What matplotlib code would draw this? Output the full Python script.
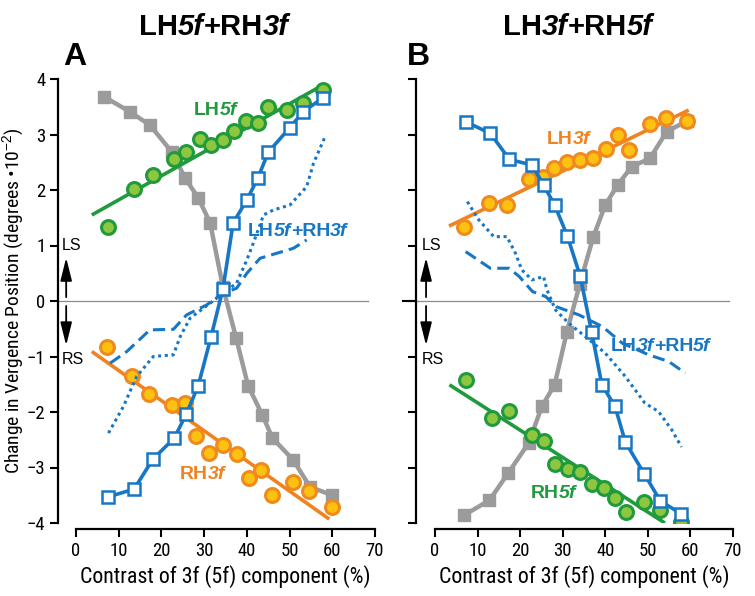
import os
import numpy as np
import matplotlib
matplotlib.use('Agg')
import matplotlib.pyplot as plt
from matplotlib import font_manager, transforms
from matplotlib.font_manager import FontProperties

# ---------------- data ----------------
# Panel A : LH5f + RH3f
a_gray_x = [6.6, 12.6, 17.3, 22.5, 25.5, 28.6, 31.4, 34.4, 37.5, 40.3, 43.6, 46.0, 50.8, 54.8, 60.0]
a_gray_y = [3.68, 3.41, 3.17, 2.68, 2.22, 1.86, 1.41, 0.25, -0.67, -1.53, -2.05, -2.47, -2.86, -3.35, -3.50]
a_blue_x = [7.5, 13.6, 18.0, 23.0, 25.8, 28.6, 31.6, 34.4, 36.8, 40.0, 42.6, 45.0, 50.0, 53.2, 57.8]
a_blue_y = [-3.53, -3.39, -2.85, -2.47, -2.04, -1.53, -0.65, 0.22, 1.41, 1.82, 2.22, 2.68, 3.12, 3.41, 3.66]
a_green_x = [7.6, 13.6, 18.0, 23.0, 25.7, 29.0, 31.5, 34.4, 37.0, 39.8, 42.6, 44.9, 49.3, 53.2, 57.8]
a_green_y = [1.34, 2.02, 2.27, 2.56, 2.69, 2.92, 2.81, 2.90, 3.07, 3.25, 3.21, 3.49, 3.45, 3.57, 3.81]
a_green_fit_x = [3.7, 58.0]
a_green_fit_y = [1.55, 3.90]
a_orange_x = [7.2, 13.0, 17.2, 22.4, 25.5, 28.1, 31.2, 34.3, 37.6, 40.4, 43.3, 46.0, 50.9, 54.6, 59.9]
a_orange_y = [-0.83, -1.36, -1.68, -1.87, -1.84, -2.43, -2.73, -2.59, -2.76, -3.19, -3.05, -3.50, -3.26, -3.42, -3.72]
a_orange_fit_x = [3.7, 59.3]
a_orange_fit_y = [-0.91, -3.93]
a_dash_x = [8.0, 11.9, 17.3, 22.8, 25.9, 30.6, 34.5, 37.6, 40.0, 43.1, 47.0, 50.9, 54.0]
a_dash_y = [-1.12, -0.91, -0.52, -0.51, -0.25, -0.07, 0.14, 0.23, 0.50, 0.77, 0.86, 0.95, 1.10]
a_dot_x = [7.6, 11.1, 14.2, 18.1, 22.8, 24.4, 26.7, 31.4, 34.4, 37.6, 40.0, 41.5, 43.9, 46.2, 50.1, 54.0, 55.6, 58.3]
a_dot_y = [-2.38, -1.90, -1.36, -1.00, -0.97, -0.64, -0.31, -0.04, 0.14, 0.32, 0.74, 1.04, 1.55, 1.64, 1.73, 2.06, 2.48, 2.96]

# Panel B : LH3f + RH5f
b_gray_x = [6.8, 12.8, 17.2, 22.0, 25.1, 28.1, 31.0, 34.0, 37.2, 40.0, 42.9, 46.2, 50.5, 54.4, 59.3]
b_gray_y = [-3.86, -3.59, -3.10, -2.56, -1.90, -1.51, -0.55, 0.30, 1.16, 1.73, 2.09, 2.42, 2.57, 3.05, 3.25]
b_blue_x = [7.2, 13.0, 17.5, 22.8, 25.5, 28.1, 31.1, 34.1, 36.8, 39.2, 42.3, 44.7, 49.2, 52.9, 57.9]
b_blue_y = [3.23, 3.02, 2.55, 2.45, 2.09, 1.73, 1.17, 0.45, -0.56, -1.51, -1.90, -2.54, -3.12, -3.60, -3.84]
b_orange_x = [6.8, 12.8, 16.9, 22.0, 25.3, 28.0, 31.0, 34.1, 37.0, 40.1, 42.9, 45.6, 50.5, 54.2, 59.3]
b_orange_y = [1.33, 1.77, 1.73, 2.19, 2.23, 2.39, 2.51, 2.54, 2.57, 2.73, 3.00, 2.72, 3.19, 3.29, 3.25]
b_orange_fit_x = [3.3, 59.6]
b_orange_fit_y = [1.35, 3.44]
b_green_x = [7.2, 13.3, 17.5, 22.8, 25.5, 28.3, 31.2, 34.1, 36.8, 39.6, 42.3, 44.8, 49.2, 52.9, 57.9]
b_green_y = [-1.42, -2.11, -1.99, -2.41, -2.52, -2.94, -3.03, -3.09, -3.30, -3.37, -3.55, -3.80, -3.63, -3.77, -3.98]
b_green_fit_x = [3.4, 54.0]
b_green_fit_y = [-1.51, -4.00]
b_dash_x = [7.2, 13.0, 17.4, 19.8, 22.9, 26.0, 28.4, 33.8, 39.3, 44.0, 50.2, 54.9, 58.8]
b_dash_y = [0.89, 0.59, 0.59, 0.44, 0.17, 0.08, -0.10, -0.25, -0.46, -0.76, -0.97, -1.09, -1.30]
b_dot_x = [7.6, 10.3, 13.8, 16.9, 18.9, 20.4, 22.8, 25.5, 26.3, 28.3, 31.4, 35.3, 40.0, 44.7, 49.3, 52.5, 55.6, 57.9]
b_dot_y = [1.79, 1.46, 1.16, 1.16, 0.86, 0.56, 0.38, 0.44, 0.20, -0.16, -0.40, -0.64, -0.94, -1.36, -1.84, -1.99, -2.32, -2.63]

x_ticks = [0, 10, 20, 30, 40, 50, 60, 70]
y_ticks = [-4, -3, -2, -1, 0, 1, 2, 3, 4]
x_label = 'Contrast of 3f (5f) component (%)'
y_label = 'Change in Vergence Position (degrees \u202210$^{-2}$)'

# ---------------- fonts ----------------
names = {f.name for f in font_manager.fontManager.ttflist}
SANS = 'Liberation Sans' if 'Liberation Sans' in names else 'DejaVu Sans'
narrow_file = None
files = {os.path.basename(f.fname): f.fname for f in font_manager.fontManager.ttflist}
for cand in ['LiberationSansNarrow-Regular.ttf', 'ArialNarrow.ttf', 'Roboto-Condensed.ttf',
             'RobotoCondensed-Regular.ttf', 'OpenSans_Condensed-Regular.ttf', 'DejaVuSansCondensed.ttf']:
    if cand in files:
        narrow_file = files[cand]
        break


def NARROW_FP(size):
    if narrow_file:
        return FontProperties(fname=narrow_file, size=size)
    return FontProperties(family=SANS, size=size)


plt.rcParams['font.family'] = [SANS, 'DejaVu Sans']
plt.rcParams['mathtext.fontset'] = 'custom'
plt.rcParams['mathtext.rm'] = SANS

GRAY = '#9b9b9b'
BLUE = '#1877c4'
GREEN_E = '#1f9a3d'
GREEN_F = '#8dc63f'
ORANGE_E = '#f08a1e'
ORANGE_F = '#fdc112'
ORANGE_L = '#ef8321'

W, H = 755, 596
fig = plt.figure(figsize=(W / 100, H / 100), dpi=100)


def px_axes(x0, x1, y_top, y_bot):
    return fig.add_axes([x0 / W, 1 - y_bot / H, (x1 - x0) / W, (y_bot - y_top) / H])


axA = px_axes(76, 375, 79, 523)
axB = px_axes(435, 733, 79, 523)


def mixed_text(ax_or_fig, trans, x, y, parts, size, color):
    renderer = fig.canvas.get_renderer()
    texts, widths = [], []
    for s, style in parts:
        t = ax_or_fig.text(x, y, s, transform=trans, fontsize=size, fontweight='bold',
                           fontstyle=style, color=color, ha='left', va='baseline',
                           family=SANS, clip_on=False, zorder=10)
        bb = t.get_window_extent(renderer)
        widths.append(bb.width)
        texts.append(t)
    total = sum(widths)
    cap = 0.716 * size * fig.dpi / 72.0
    off = -total / 2.0
    for t, w in zip(texts, widths):
        t.set_transform(transforms.offset_copy(trans, fig=fig, x=off, y=-cap / 2.0, units='dots'))
        off += w


def fit_text(t, target_px):
    renderer = fig.canvas.get_renderer()
    bb = t.get_window_extent(renderer)
    if bb.width > 0:
        t.set_fontsize(t.get_fontsize() * target_px / bb.width)


def style_axes(ax, left_offset_px, labels):
    ax.set_xlim(0, 70)
    ax.set_ylim(-4, 4)
    for s in ['top', 'right']:
        ax.spines[s].set_visible(False)
    ax.spines['left'].set_position(('outward', left_offset_px * 0.72))
    ax.spines['bottom'].set_position(('outward', 6 * 0.72))
    ax.spines['left'].set_bounds(-4, 4)
    ax.spines['bottom'].set_bounds(0, 70)
    for s in ['left', 'bottom']:
        ax.spines[s].set_linewidth(1.6)
    ax.set_xticks(x_ticks)
    ax.set_yticks(y_ticks)
    ax.tick_params(axis='both', direction='out', width=1.5, length=5.5, colors='black')
    for lab in ax.get_xticklabels() + ax.get_yticklabels():
        lab.set_fontproperties(NARROW_FP(13.5))
    if not labels:
        ax.set_yticklabels([])
    ax.set_xlabel(x_label, fontproperties=NARROW_FP(14), labelpad=4)
    fit_text(ax.xaxis.label, 293)
    ax.patch.set_alpha(0)


def draw_common(ax, gray_x, gray_y, blue_x, blue_y, dash_x, dash_y, dot_x, dot_y):
    ax.plot(gray_x, gray_y, '-s', color=GRAY, lw=3.2, ms=8.5, mfc=GRAY, mec=GRAY, zorder=2)
    ax.plot(dash_x, dash_y, '--', color=BLUE, lw=2.2, dashes=(4, 2), zorder=4)
    ax.plot(dot_x, dot_y, ':', color=BLUE, lw=2.2, dashes=(1, 1.2), zorder=4)
    ax.plot(blue_x, blue_y, '-s', color=BLUE, lw=2.6, ms=8, mfc='white', mec=BLUE, mew=1.8, zorder=5)


def circles(ax, x, y, fx, fy, edge, face, line):
    ax.plot(fx, fy, '-', color=line, lw=2.6, zorder=3, solid_capstyle='butt')
    ax.plot(x, y, 'o', ms=10, mfc=face, mec=edge, mew=2.2, ls='none', zorder=3.5)


# Panel A
draw_common(axA, a_gray_x, a_gray_y, a_blue_x, a_blue_y, a_dash_x, a_dash_y, a_dot_x, a_dot_y)
circles(axA, a_green_x, a_green_y, a_green_fit_x, a_green_fit_y, GREEN_E, GREEN_F, GREEN_E)
circles(axA, a_orange_x, a_orange_y, a_orange_fit_x, a_orange_fit_y, ORANGE_E, ORANGE_F, ORANGE_L)
style_axes(axA, 18, True)

# Panel B
draw_common(axB, b_gray_x, b_gray_y, b_blue_x, b_blue_y, b_dash_x, b_dash_y, b_dot_x, b_dot_y)
circles(axB, b_orange_x, b_orange_y, b_orange_fit_x, b_orange_fit_y, ORANGE_E, ORANGE_F, ORANGE_L)
circles(axB, b_green_x, b_green_y, b_green_fit_x, b_green_fit_y, GREEN_E, GREEN_F, GREEN_E)
style_axes(axB, 19, False)

# zero lines
axA.plot([-4.2, 68.4], [0, 0], color='#8a8a8a', lw=0.9, clip_on=False, zorder=1)
axB.plot([-4.5, 69.0], [0, 0], color='#8a8a8a', lw=0.9, clip_on=False, zorder=1)
axB.plot([-7.4, -4.5], [0, 0], color='black', lw=1.5, clip_on=False, zorder=1)

axA.set_ylabel(y_label, fontproperties=NARROW_FP(14))
axA.yaxis.set_label_coords((27 - 76) / 299, 0.5)

# LS / RS arrows
for ax, ax_x, tx in [(axA, -2.3, -3.4), (axB, -2.1, -3.1)]:
    ap = dict(arrowstyle='-|>,head_length=1.4,head_width=0.35', color='black', lw=1.3,
              mutation_scale=10, shrinkA=0, shrinkB=0)
    ax.annotate('', xy=(ax_x, 0.78), xytext=(ax_x, 0.07), arrowprops=ap, annotation_clip=False)
    ax.annotate('', xy=(ax_x, -0.80), xytext=(ax_x, -0.09), arrowprops=ap, annotation_clip=False)
    ax.text(tx, 1.0, 'LS', fontsize=11.5, family=SANS, ha='left', va='center', clip_on=False)
    ax.text(tx, -1.06, 'RS', fontsize=11.5, family=SANS, ha='left', va='center', clip_on=False)

# in-plot labels
mixed_text(axA, axA.transData, 32.7, 3.47, [('LH', 'normal'), ('5f', 'italic')], 14, GREEN_E)
mixed_text(axA, axA.transData, 51.9, 1.29,
           [('LH', 'normal'), ('5f', 'italic'), ('+RH', 'normal'), ('3f', 'italic')], 14, BLUE)
mixed_text(axA, axA.transData, 29.6, -3.08, [('RH', 'normal'), ('3f', 'italic')], 14, ORANGE_L)
mixed_text(axB, axB.transData, 31.3, 2.96, [('LH', 'normal'), ('3f', 'italic')], 14, ORANGE_L)
mixed_text(axB, axB.transData, 53.0, -0.77,
           [('LH', 'normal'), ('3f', 'italic'), ('+RH', 'normal'), ('5f', 'italic')], 14, BLUE)
mixed_text(axB, axB.transData, 27.8, -3.43, [('RH', 'normal'), ('5f', 'italic')], 14, GREEN_E)

# titles and panel letters
mixed_text(fig, fig.transFigure, 214 / W, 1 - 25 / H,
           [('LH', 'normal'), ('5f', 'italic'), ('+RH', 'normal'), ('3f', 'italic')], 21, 'black')
mixed_text(fig, fig.transFigure, 578 / W, 1 - 25 / H,
           [('LH', 'normal'), ('3f', 'italic'), ('+RH', 'normal'), ('5f', 'italic')], 21, 'black')
fig.text(75 / W, 1 - 57 / H, 'A', fontsize=23, fontweight='bold', family=SANS, ha='center', va='center')
fig.text(418 / W, 1 - 57 / H, 'B', fontsize=23, fontweight='bold', family=SANS, ha='center', va='center')

fig.savefig('out.png', dpi=100)
